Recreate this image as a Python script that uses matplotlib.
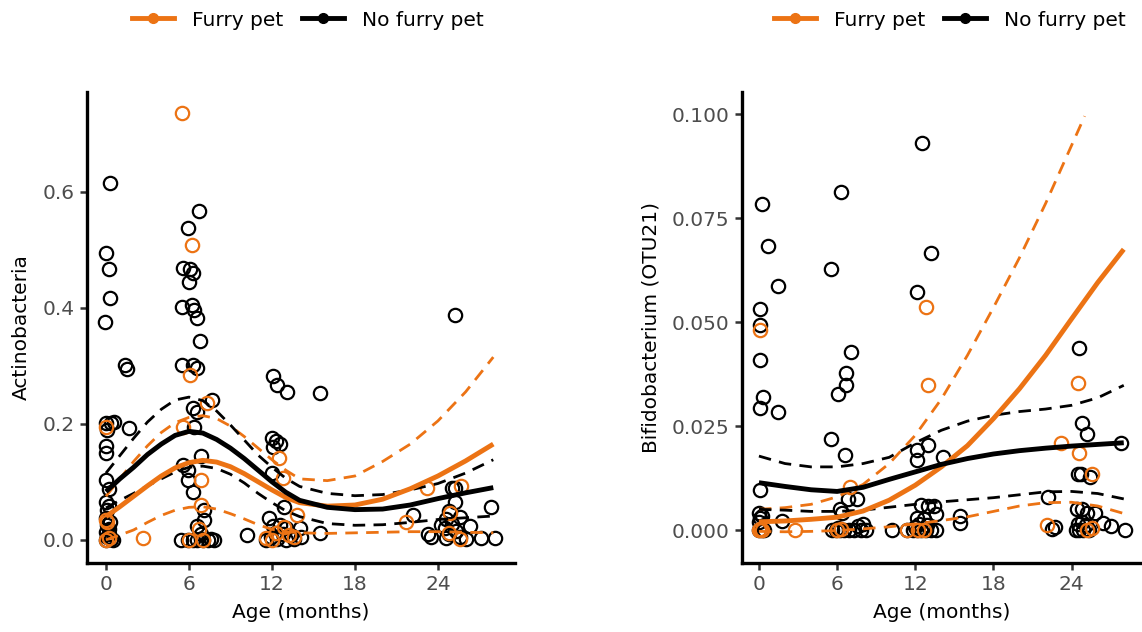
import matplotlib
matplotlib.use("Agg")
import matplotlib.pyplot as plt
from matplotlib.lines import Line2D

ORANGE = "#EC7314"
BLACK = "black"

# --- Actinobacteria: fitted means and 95% bands (denser grid around the 6-month peak) ---
act_fit_age = [0, 1, 2, 3, 4, 5, 6, 7, 8, 9, 10, 11, 12, 13, 14, 16, 18, 20, 22, 24, 26, 28]
act_pet_mean = [0.040, 0.057, 0.075, 0.093, 0.110, 0.124, 0.133, 0.137, 0.134, 0.126, 0.114, 0.100, 0.086, 0.073,
                0.064, 0.058, 0.060, 0.070, 0.088, 0.110, 0.136, 0.165]
act_pet_hi = [0.075, 0.105, 0.135, 0.162, 0.185, 0.202, 0.211, 0.214, 0.209, 0.196, 0.178, 0.158, 0.138, 0.120,
              0.105, 0.102, 0.110, 0.135, 0.165, 0.205, 0.255, 0.315]
act_pet_lo = [0.000, 0.008, 0.017, 0.030, 0.042, 0.051, 0.056, 0.057, 0.053, 0.045, 0.036, 0.026, 0.018, 0.014,
              0.012, 0.011, 0.012, 0.013, 0.014, 0.014, 0.013, 0.012]
act_nopet_mean = [0.083, 0.105, 0.125, 0.147, 0.165, 0.180, 0.187, 0.184, 0.173, 0.158, 0.140, 0.120, 0.100, 0.082,
                  0.068, 0.056, 0.052, 0.053, 0.060, 0.071, 0.081, 0.090]
act_nopet_hi = [0.115, 0.145, 0.175, 0.203, 0.225, 0.241, 0.246, 0.240, 0.222, 0.198, 0.172, 0.146, 0.125, 0.106,
                0.092, 0.080, 0.076, 0.078, 0.086, 0.097, 0.115, 0.138]
act_nopet_lo = [0.055, 0.068, 0.080, 0.093, 0.105, 0.117, 0.125, 0.127, 0.123, 0.113, 0.098, 0.080, 0.064, 0.050,
                0.040, 0.028, 0.025, 0.026, 0.030, 0.035, 0.038, 0.041]

act_nopet_age = [0.3, 0.0, 0.2, 0.3, -0.1, 0.0, 0.4, 0.6, 0.1, 0.0, 0.0, 0.0, 0.2, 0.0, 0.1, 0.2, 0.0, 0.1,
                 0.3, 0.0, 0.2, 0.1, 0.4, 0.0, 0.5, 0.2, 1.4, 1.5, 1.7,
                 6.7, 5.9, 5.6, 6.1, 6.3, 6.0, 5.5, 6.2, 6.4, 6.6, 6.8, 5.5, 6.3, 6.6, 7.7, 6.3, 6.6, 6.4,
                 6.9, 5.6, 5.9, 5.9, 6.3, 7.1, 7.1, 6.6, 6.9, 5.4, 5.9, 6.3, 6.6, 7.0, 7.4, 7.8, 6.9, 7.6, 10.2,
                 12.1, 12.4, 13.1, 15.5, 12.0, 12.3, 12.6, 12.1, 12.0, 12.9, 11.8, 12.1, 12.6, 13.0, 12.2,
                 12.8, 13.4, 11.9, 12.4, 13.0, 13.6, 14.1, 15.5, 14.0, 11.6,
                 25.2, 25.0, 25.2, 25.2, 27.8, 22.2, 24.8, 24.6, 25.0, 26.3, 24.5, 25.3, 24.8, 23.3, 23.5,
                 24.6, 25.6, 26.0, 27.1, 28.1, 24.2, 25.6]
act_nopet_val = [0.615, 0.495, 0.467, 0.417, 0.376, 0.201, 0.201, 0.203, 0.190, 0.161, 0.149, 0.103, 0.087, 0.066,
                 0.051, 0.058, 0.037, 0.026, 0.030, 0.014, 0.018, 0.004, 0.002, 0.000, 0.000, 0.010, 0.302, 0.294, 0.193,
                 0.566, 0.538, 0.469, 0.467, 0.460, 0.445, 0.402, 0.405, 0.397, 0.383, 0.342, 0.302, 0.302, 0.296,
                 0.241, 0.227, 0.221, 0.195, 0.144, 0.129, 0.121, 0.103, 0.083, 0.052, 0.034, 0.023, 0.010,
                 0.000, 0.000, 0.000, 0.000, 0.000, 0.000, 0.000, 0.002, 0.001, 0.008,
                 0.282, 0.267, 0.254, 0.253, 0.175, 0.170, 0.166, 0.160, 0.115, 0.057, 0.038, 0.023, 0.025, 0.020,
                 0.012, 0.010, 0.008, 0.004, 0.002, 0.000, 0.002, 0.004, 0.012, 0.020, 0.000,
                 0.388, 0.089, 0.089, 0.066, 0.057, 0.043, 0.050, 0.035, 0.028, 0.023, 0.020, 0.015, 0.010, 0.010,
                 0.004, 0.003, 0.005, 0.002, 0.003, 0.003, 0.025, 0.040]

act_pet_age = [5.5, 6.2, 6.1, 7.3, 5.6, 6.9, 6.9, 6.7, 6.0, 7.0, 0.0, 0.0, 0.1, 0.0, 0.2, 2.7,
               12.5, 12.8, 13.8, 11.6, 12.0, 12.3, 12.9, 13.2, 13.6,
               23.2, 25.7, 21.7, 24.9, 24.8, 25.6]
act_pet_val = [0.736, 0.509, 0.284, 0.236, 0.195, 0.103, 0.060, 0.018, 0.000, 0.000, 0.195, 0.034, 0.030, 0.000,
               0.003, 0.003, 0.141, 0.107, 0.043, 0.003, 0.000, 0.012, 0.022, 0.008, 0.005,
               0.089, 0.092, 0.030, 0.046, 0.012, 0.002]

# --- Bifidobacterium (OTU21) ---
bif_fit_age = [0, 2, 4, 6, 8, 10, 12, 14, 16, 18, 20, 22, 24, 26, 28]
bif_pet_mean = [0.0020, 0.0022, 0.0026, 0.0031, 0.0046, 0.0072, 0.0108, 0.0152, 0.0203, 0.0268, 0.0340, 0.0420, 0.0508, 0.0595, 0.0675]
bif_pet_lo = [-0.0003, -0.0004, -0.0003, -0.0001, 0.0003, 0.0008, 0.0015, 0.0023, 0.0032, 0.0045, 0.0058, 0.0066, 0.0067, 0.0058, 0.0040]
# upper band leaves the 0-0.1 scale after about 25 months
bif_pet_hi_age = [0, 2, 4, 6, 8, 10, 12, 14, 16, 18, 20, 22, 24, 25]
bif_pet_hi = [0.0050, 0.0054, 0.0062, 0.0080, 0.0110, 0.0160, 0.0228, 0.0315, 0.0420, 0.0535, 0.0655, 0.0785, 0.0925, 0.0995]
bif_nopet_mean = [0.0114, 0.0105, 0.0097, 0.0093, 0.0103, 0.0122, 0.0140, 0.0158, 0.0172, 0.0183, 0.0191, 0.0197, 0.0202, 0.0206, 0.0210]
bif_nopet_hi = [0.0178, 0.0160, 0.0152, 0.0152, 0.0160, 0.0175, 0.0210, 0.0240, 0.0262, 0.0276, 0.0285, 0.0291, 0.0300, 0.0318, 0.0348]
bif_nopet_lo = [0.0050, 0.0048, 0.0045, 0.0045, 0.0048, 0.0055, 0.0062, 0.0068, 0.0073, 0.0078, 0.0085, 0.0092, 0.0093, 0.0088, 0.0075]

bif_nopet_age = [12.5, 6.3, 0.2, 0.7, 13.2, 5.5, 1.5, 12.1, 0.1, 0.1, 7.1, 0.1, 6.7, 6.7, 6.1, 0.3, 0.1, 1.5,
                 24.6, 5.5, 6.6, 24.8, 25.2, 27.8, 24.5, 24.7, 25.4, 12.1, 13.0, 12.1, 14.1, 0.1, 6.8, 7.5,
                 22.2, 1.8, 6.2, 6.4, 12.4, 13.0, 13.4, 13.6, 12.1, 12.7, 15.4, 15.4, 24.4, 24.8, 25.2, 25.8,
                 26.4, 27.0, 22.7, 22.5, 28.1, 10.2,
                 0.0, 0.2, 0.4, 0.0, 0.1, 0.0, 0.2,
                 5.6, 5.9, 6.2, 6.5, 6.9, 7.3, 7.8, 8.2, 7.6, 8.0, 6.1,
                 11.4, 11.8, 12.1, 12.4, 12.8, 13.2, 13.6, 12.3, 12.9, 12.0,
                 24.3, 24.6, 24.9, 25.3, 24.5, 25.1, 24.8]
bif_nopet_val = [0.0930, 0.0813, 0.0784, 0.0683, 0.0667, 0.0627, 0.0587, 0.0573, 0.0531, 0.0493, 0.0429, 0.0409,
                 0.0377, 0.0349, 0.0326, 0.0320, 0.0293, 0.0284, 0.0437, 0.0220, 0.0180, 0.0258, 0.0231, 0.0210,
                 0.0136, 0.0136, 0.0128, 0.0192, 0.0204, 0.0168, 0.0175, 0.0096, 0.0076, 0.0076, 0.0080, 0.0022,
                 0.0050, 0.0040, 0.0060, 0.0057, 0.0057, 0.0038, 0.0030, 0.0027, 0.0033, 0.0017, 0.0050, 0.0050,
                 0.0040, 0.0042, 0.0016, 0.0010, 0.0008, 0.0002, 0.0000, 0.0000,
                 0.0000, 0.0000, 0.0000, 0.0020, 0.0030, 0.0040, 0.0035,
                 0.0000, 0.0000, 0.0000, 0.0000, 0.0000, 0.0000, 0.0000, 0.0000, 0.0010, 0.0015, 0.0005,
                 0.0000, 0.0000, 0.0000, 0.0000, 0.0000, 0.0000, 0.0000, 0.0015, 0.0013, 0.0008,
                 0.0000, 0.0000, 0.0000, 0.0000, 0.0015, 0.0012, 0.0020]

bif_pet_age = [0.1, 12.8, 13.0, 24.5, 23.2, 24.6, 25.6, 7.0, 2.8, 0.0, 0.2, 0.1, 6.0, 6.3, 12.7, 11.4, 12.2,
               22.1, 25.2, 25.6]
bif_pet_val = [0.0481, 0.0536, 0.0349, 0.0353, 0.0210, 0.0186, 0.0136, 0.0104, 0.0000, 0.0000, 0.0000, 0.0003,
               0.0000, 0.0002, 0.0000, 0.0000, 0.0000, 0.0012, 0.0000, 0.0005]

FS = 14.5
plt.rcParams["font.family"] = "DejaVu Sans"

fig = plt.figure(figsize=(11.42, 6.32), dpi=100)
ax1 = fig.add_axes([87 / 1142, 1 - 563 / 632, 428 / 1142, 471 / 632])
ax2 = fig.add_axes([742 / 1142, 1 - 563 / 632, 400 / 1142, 471 / 632])


def draw_panel(ax, pts, curves):
    for age, val, col in pts:
        ax.plot(age, val, linestyle="none", marker="o", ms=9.6, mfc="none",
                mec=col, mew=1.6, zorder=2)
    for col, x, mean, hi_x, hi, lo in curves:
        ax.plot(x, mean, color=col, lw=3.5, solid_capstyle="butt",
                solid_joinstyle="round", zorder=4)
        ax.plot(hi_x, hi, color=col, lw=2.0, dashes=(4.5, 3), zorder=3)
        ax.plot(x, lo, color=col, lw=2.0, dashes=(4.5, 3), zorder=3)
    for side in ("top", "right"):
        ax.spines[side].set_visible(False)
    for side in ("left", "bottom"):
        ax.spines[side].set_linewidth(2.4)
        ax.spines[side].set_color("black")
    ax.tick_params(length=5, width=1.8, color="#333333", labelcolor="#4D4D4D",
                   labelsize=FS, pad=4)
    ax.set_xticks([0, 6, 12, 18, 24])
    ax.set_xlabel("Age (months)", fontsize=FS, color="black", labelpad=6)


draw_panel(ax1,
           [(act_nopet_age, act_nopet_val, BLACK), (act_pet_age, act_pet_val, ORANGE)],
           [(ORANGE, act_fit_age, act_pet_mean, act_fit_age, act_pet_hi, act_pet_lo),
            (BLACK, act_fit_age, act_nopet_mean, act_fit_age, act_nopet_hi, act_nopet_lo)])
ax1.set_xlim(-1.37, 29.57)
ax1.set_ylim(-0.040, 0.772)
ax1.set_yticks([0.0, 0.2, 0.4, 0.6])
ax1.set_yticklabels(["0.0", "0.2", "0.4", "0.6"])
ax1.set_ylabel("Actinobacteria", fontsize=FS, labelpad=8)

draw_panel(ax2,
           [(bif_nopet_age, bif_nopet_val, BLACK), (bif_pet_age, bif_pet_val, ORANGE)],
           [(ORANGE, bif_fit_age, bif_pet_mean, bif_pet_hi_age, bif_pet_hi, bif_pet_lo),
            (BLACK, bif_fit_age, bif_nopet_mean, bif_fit_age, bif_nopet_hi, bif_nopet_lo)])
ax2.set_xlim(-1.3, 29.4)
ax2.set_ylim(-0.0079, 0.1053)
ax2.set_yticks([0.0, 0.025, 0.05, 0.075, 0.1])
ax2.set_yticklabels(["0.000", "0.025", "0.050", "0.075", "0.100"])
ax2.set_ylabel("Bifidobacterium (OTU21)", fontsize=FS, labelpad=8)

# legends above each panel
handles = [Line2D([], [], color=ORANGE, lw=3.5, marker="o", ms=7),
           Line2D([], [], color=BLACK, lw=3.5, marker="o", ms=7)]
labels = ["Furry pet", "No furry pet"]
for cx in (308 / 1142, 950 / 1142):
    fig.legend(handles, labels, loc="center", bbox_to_anchor=(cx, 1 - 20 / 632),
               ncol=2, frameon=False, fontsize=FS, handlelength=2.1,
               handletextpad=0.9, columnspacing=0.9)

fig.savefig("out.png", dpi=100)
